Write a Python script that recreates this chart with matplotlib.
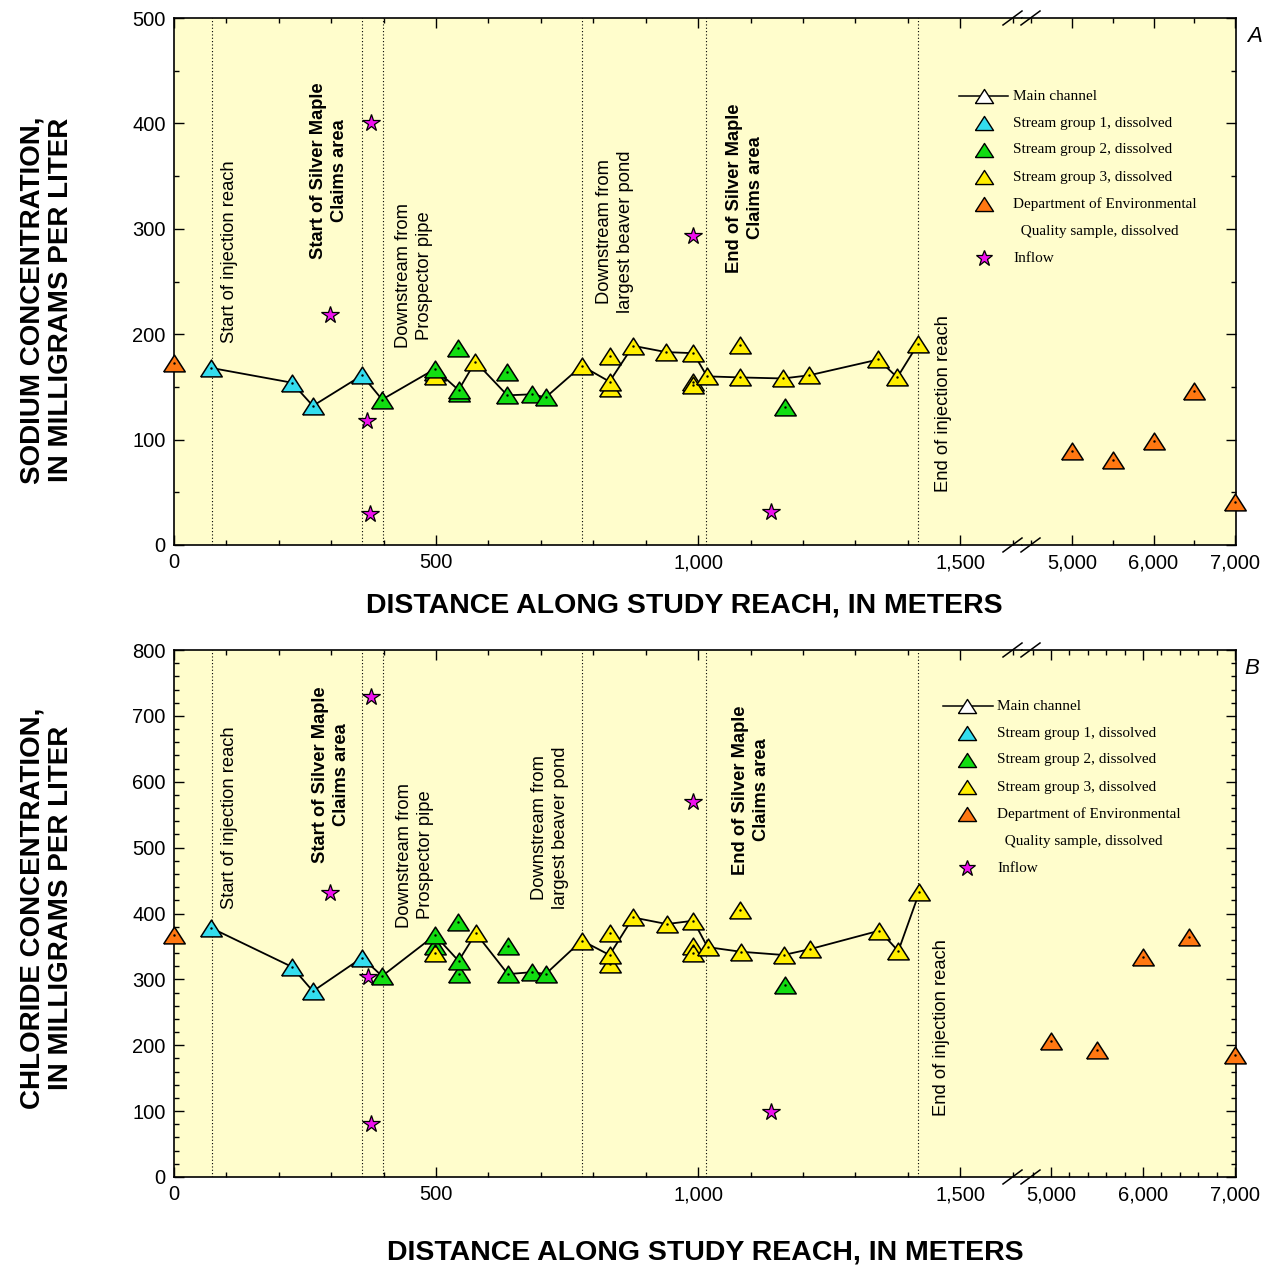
import matplotlib
matplotlib.use('Agg')
import matplotlib.pyplot as plt
from matplotlib.lines import Line2D
from matplotlib.ticker import MultipleLocator, FixedLocator, FuncFormatter

# ---- data: sodium (panel A) ----
na_main_x = [71, 225, 265, 359, 397, 498, 543, 575, 636, 684, 709, 778, 831, 876, 939, 991, 1017, 1080, 1162, 1212, 1344, 1380, 1420]
na_main_y = [168, 154, 132, 161, 138, 167, 147, 174, 142, 143, 140, 170, 155, 189, 183, 182, 160, 159, 158, 161, 176, 159, 191]
main_grp = [1, 1, 1, 1, 2, 2, 2, 3, 2, 2, 2, 3, 3, 3, 3, 3, 3, 3, 3, 3, 3, 3, 3]
na_off_x = [498, 498, 541, 543, 636, 831, 831, 990, 990, 1079, 1165]
na_off_y = [164, 160, 187, 144, 164, 179, 149, 155, 152, 190, 131]
off_grp = [2, 3, 2, 2, 2, 3, 3, 3, 3, 3, 2]
na_deq_x = [0, 5000, 5500, 6000, 6500, 7000]
na_deq_y = [173, 89, 81, 99, 146, 41]
na_inflow_x = [298, 369, 374, 376, 990, 1139]
na_inflow_y = [218, 118, 29, 400, 293, 31]

# ---- data: chloride (panel B) ----
cl_main_x = [71, 225, 265, 359, 397, 498, 543, 576, 637, 684, 709, 778, 831, 876, 940, 991, 1018, 1081, 1163, 1214, 1346, 1382, 1422]
cl_main_y = [378, 319, 282, 333, 305, 367, 328, 370, 308, 311, 308, 359, 337, 394, 384, 389, 349, 342, 337, 346, 374, 343, 432]
cl_off_x = [498, 498, 542, 543, 637, 832, 831, 990, 990, 1080, 1166]
cl_off_y = [350, 340, 387, 308, 351, 370, 324, 350, 340, 405, 291]
cl_deq_x = [0, 5000, 5500, 6000, 6500, 7000]
cl_deq_y = [367, 206, 193, 334, 364, 185]
cl_inflow_x = [298, 370, 376, 376, 990, 1139]
cl_inflow_y = [431, 303, 729, 80, 569, 99]

# reach landmarks (m)
landmarks = [72, 359, 398, 778, 1016, 1420]

GRP_COL = {1: '#33ddee', 2: '#11dd11', 3: '#ffee00'}
ORANGE = '#ff7711'
MAGENTA = '#ee11ee'
BG = '#fffdcc'
TRI = [(-1, -0.78), (1, -0.78), (0, 0.78), (-1, -0.78)]

W, H = 1274, 1270
plt.rcParams['font.family'] = ['Liberation Sans', 'DejaVu Sans']


def frect(x0, y0, x1, y1):
    return [x0 / W, 1 - y1 / H, (x1 - x0) / W, (y1 - y0) / H]


def fx(px):
    return px / W


def fy(py):
    return 1 - py / H


def comma(v, pos):
    return '{:,.0f}'.format(v)


def tri(ax, x, y, color, ms=15.5, z=4):
    ax.plot(x, y, ls='none', marker=TRI, ms=ms, mfc=color, mec='black',
            mew=1.1, zorder=z, clip_on=False)
    ax.plot(x, y, ls='none', marker='.', ms=1.5, color='black', zorder=z + 0.1, clip_on=False)


def draw_panel(top, bot, main_x, main_y, off_x, off_y, deq_x, deq_y, in_x, in_y,
               ymax, ymaj, ymin_step, rlim, rminor):
    axl = fig.add_axes(frect(174, top, 1022, bot))
    axr = fig.add_axes(frect(1022, top, 1236, bot), sharey=axl)
    for ax in (axl, axr):
        ax.set_facecolor(BG)
        ax.set_ylim(0, ymax)
        ax.tick_params(which='both', direction='in', labelsize=14.5, pad=6)
        ax.tick_params(which='major', length=7, width=1)
        ax.tick_params(which='minor', length=3.5, width=1)
        for s in ax.spines.values():
            s.set_linewidth(1.2)
    axl.set_xlim(0, 1618)
    axl.xaxis.set_major_locator(MultipleLocator(500))
    axl.xaxis.set_minor_locator(MultipleLocator(100))
    axl.yaxis.set_major_locator(MultipleLocator(ymaj))
    axl.yaxis.set_minor_locator(MultipleLocator(ymin_step))
    axl.xaxis.set_major_formatter(FuncFormatter(comma))
    axl.spines['right'].set_visible(False)
    axl.tick_params(which='both', top=True, right=False)
    axr.set_xlim(*rlim)
    axr.xaxis.set_major_locator(FixedLocator([5000, 6000, 7000]))
    axr.xaxis.set_minor_locator(MultipleLocator(rminor))
    axr.xaxis.set_major_formatter(FuncFormatter(comma))
    axr.spines['left'].set_visible(False)
    axr.tick_params(which='both', left=False, labelleft=False, right=True, top=True)

    for xv in landmarks:
        axl.axvline(xv, color='black', ls=(0, (1, 2)), lw=0.8, zorder=1)

    axl.plot(main_x, main_y, color='black', lw=1.3, zorder=2)
    for g in (1, 2, 3):
        tri(axl, [x for x, k in zip(off_x, off_grp) if k == g],
            [y for y, k in zip(off_y, off_grp) if k == g], GRP_COL[g], z=3)
        tri(axl, [x for x, k in zip(main_x, main_grp) if k == g],
            [y for y, k in zip(main_y, main_grp) if k == g], GRP_COL[g], z=4)
    tri(axl, [x for x in deq_x if x < 2000], [y for x, y in zip(deq_x, deq_y) if x < 2000], ORANGE)
    tri(axr, [x for x in deq_x if x > 2000], [y for x, y in zip(deq_x, deq_y) if x > 2000], ORANGE)
    axl.plot(in_x, in_y, ls='none', marker='*', ms=13, mfc=MAGENTA, mec='black',
             mew=0.9, zorder=5)

    # break marks
    for yb in (top, bot):
        for xb in (1003, 1021):
            fig.add_artist(Line2D([fx(xb), fx(xb + 19)], [fy(yb + 7), fy(yb - 7)],
                                  color='black', lw=1.1))
    return axl, axr


fig = plt.figure(figsize=(W / 100, H / 100), dpi=100)

draw_panel(18, 545, na_main_x, na_main_y, na_off_x, na_off_y, na_deq_x, na_deq_y,
           na_inflow_x, na_inflow_y, 500, 100, 50, (4386, 7012), 500)
draw_panel(650, 1177, cl_main_x, cl_main_y, cl_off_x, cl_off_y, cl_deq_x, cl_deq_y,
           cl_inflow_x, cl_inflow_y, 800, 100, 20, (4685, 7011), 200)

# annotations (pixel centres)
notes = [
    # top panel
    ('Start of injection reach', 229, 252, 'normal'),
    ('Start of Silver Maple\nClaims area', 329, 171, 'bold'),
    ('Downstream from\nProspector pipe', 414, 276, 'normal'),
    ('Downstream from\nlargest beaver pond', 615, 232, 'normal'),
    ('End of Silver Maple\nClaims area', 745, 188, 'bold'),
    ('End of injection reach', 944, 404, 'normal'),
    # bottom panel
    ('Start of injection reach', 229, 818, 'normal'),
    ('Start of Silver Maple\nClaims area', 331, 775, 'bold'),
    ('Downstream from\nProspector pipe', 415, 855, 'normal'),
    ('Downstream from\nlargest beaver pond', 550, 828, 'normal'),
    ('End of Silver Maple\nClaims area', 751, 790, 'bold'),
    ('End of injection reach', 941, 1028, 'normal'),
]
for txt, px, py, wt in notes:
    fig.text(fx(px), fy(py), txt, rotation=90, ha='center', va='center',
             multialignment='center', fontsize=13.2, fontweight=wt, linespacing=1.35)

fig.text(fx(1255), fy(37), 'A', fontsize=16, style='italic', ha='center', va='center')
fig.text(fx(1252), fy(669), 'B', fontsize=16, style='italic', ha='center', va='center')

fig.text(fx(47), fy(300), 'SODIUM CONCENTRATION,\nIN MILLIGRAMS PER LITER', rotation=90,
         ha='center', va='center', fontsize=20, fontweight='bold', linespacing=1.15)
fig.text(fx(47), fy(908), 'CHLORIDE CONCENTRATION,\nIN MILLIGRAMS PER LITER', rotation=90,
         ha='center', va='center', fontsize=20, fontweight='bold', linespacing=1.15)
fig.text(fx(684), fy(606), 'DISTANCE ALONG STUDY REACH, IN METERS', ha='center', va='center',
         fontsize=20.5, fontweight='bold')
fig.text(fx(705), fy(1253), 'DISTANCE ALONG STUDY REACH, IN METERS', ha='center', va='center',
         fontsize=20.5, fontweight='bold')

# legends
leg_rows = [('tri', 'white', 'Main channel'),
            ('tri', GRP_COL[1], 'Stream group 1, dissolved'),
            ('tri', GRP_COL[2], 'Stream group 2, dissolved'),
            ('tri', GRP_COL[3], 'Stream group 3, dissolved'),
            ('tri', ORANGE, 'Department of Environmental'),
            (None, None, '  Quality sample, dissolved'),
            ('star', MAGENTA, 'Inflow')]


def draw_legend(xm, xt, y0, line_x):
    for i, (kind, col, lab) in enumerate(leg_rows):
        yy = fy(y0 + 27 * i)
        if i == 0:
            fig.add_artist(Line2D([fx(line_x[0]), fx(line_x[1])], [yy, yy], color='black', lw=1.1))
        if kind == 'tri':
            fig.add_artist(Line2D([fx(xm)], [yy], ls='none', marker=TRI, ms=13, mfc=col,
                                  mec='black', mew=1.0))
        elif kind == 'star':
            fig.add_artist(Line2D([fx(xm)], [yy], ls='none', marker='*', ms=12, mfc=col,
                                  mec='black', mew=0.9))
        fig.text(fx(xt), yy, lab, ha='left', va='center', fontsize=11,
                 family=['Liberation Serif', 'DejaVu Serif'])


draw_legend(984, 1013, 96, (959, 1008))
draw_legend(967, 997, 706, (943, 993))

fig.savefig('out.png', dpi=100)
